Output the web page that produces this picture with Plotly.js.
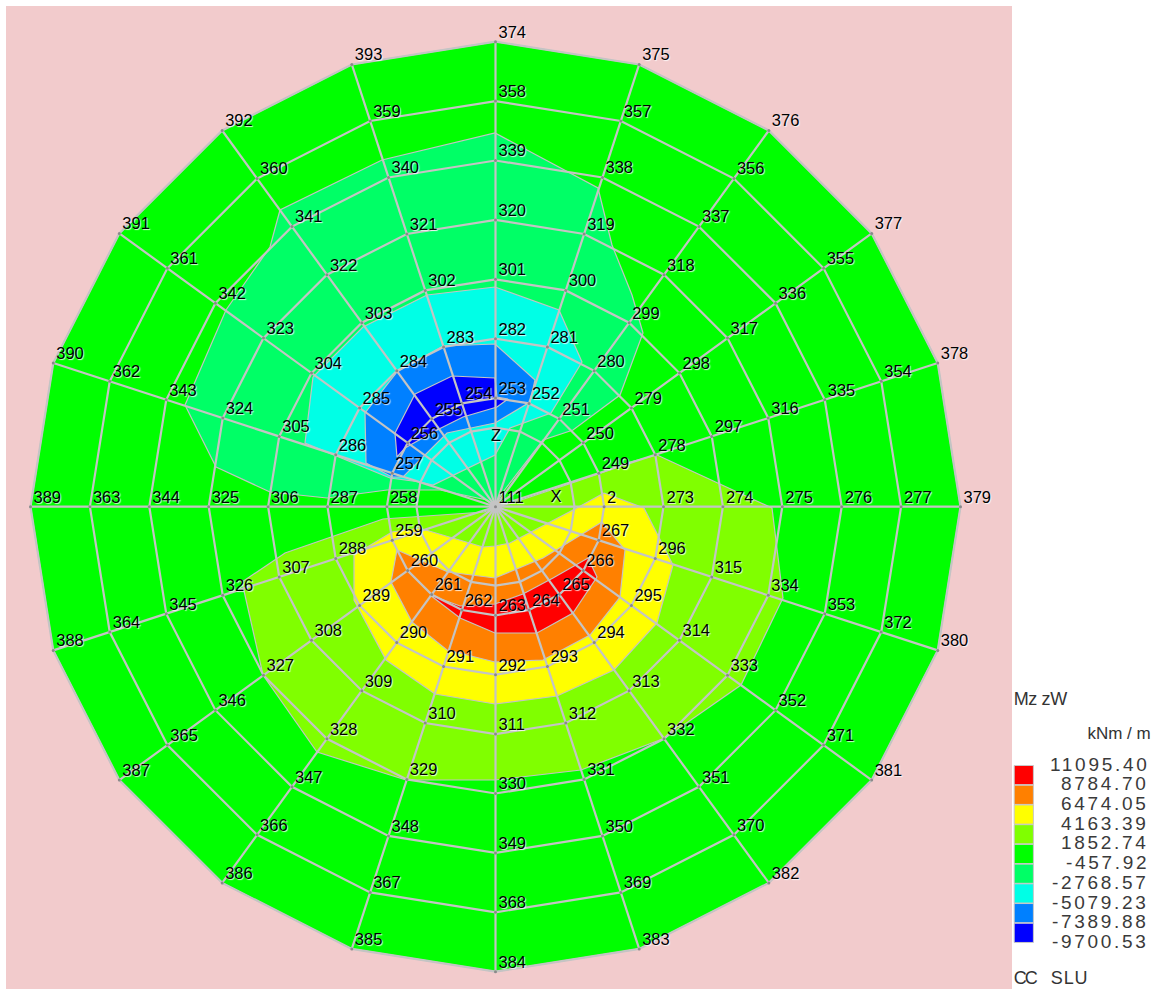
<!DOCTYPE html>
<html>
<head>
<meta charset="utf-8">
<script src="https://cdn.plot.ly/plotly-3.0.1.min.js"></script>
<style>
html,body{margin:0;padding:0;background:#fff;}
#chart{width:1161px;height:989px;}
.annotation-text{letter-spacing:2.7px;}
.annotation[data-index="10"] .annotation-text{letter-spacing:-0.4px;}
.annotation[data-index="11"] .annotation-text{letter-spacing:0;}
.annotation[data-index="12"] .annotation-text{letter-spacing:-2px;}
.annotation[data-index="13"] .annotation-text{letter-spacing:0.8px;}
</style>
</head>
<body>
<div id="chart"></div>
<script>
// Node numbers per ring, spoke by spoke, starting at +X and going counter-clockwise
var ring2 = [2,249,250,251,252,253,254,255,256,257,258,259,260,261,262,263,264,265,266,267];
var ring3 = [273,278,279,280,281,282,283,284,285,286,287,288,289,290,291,292,293,294,295,296];
var ring4 = [274,297,298,299,300,301,302,303,304,305,306,307,308,309,310,311,312,313,314,315];
var ring5 = [275,316,317,318,319,320,321,322,323,324,325,326,327,328,329,330,331,332,333,334];
var ring6 = [276,335,336,337,338,339,340,341,342,343,344,345,346,347,348,349,350,351,352,353];
var ring7 = [277,354,355,356,357,358,359,360,361,362,363,364,365,366,367,368,369,370,371,372];
var ring8 = [379,378,377,376,375,374,393,392,391,390,389,388,387,386,385,384,383,382,381,380];
var labelledRings = [ring2,ring3,ring4,ring5,ring6,ring7,ring8];
var ringRadii = [79,108.6,168,227.4,286.8,346.2,405.6,465];
var centre = [495.5,506.7];
var spokeCount = 20;

// Contour band outlines
var bandSpring = [[216,467],[185,405],[226,310],[270,247],[280,210],[382,160],[495,133],[598,188],[612,245],[632,295],[643,333],[620,395],[573,430],[543,440],[503,492],[495,506],[487,500],[440,490],[387,490],[327,498],[270,492]];
var bandCyan = [[313,377],[363,327],[427,295],[495,287],[559,310],[582,362],[551,413],[510,428],[495,455],[433,485],[420,482],[390,478],[305,443]];
var bandBlue = [[365,413],[397,372],[443,346],[495,344],[535,380],[530,402],[495,423],[447,433],[423,457],[403,477],[392,477],[366,463]];
var bandDeep = [[415,394],[452,376],[495,378],[497,397],[508,399],[497,407],[463,417],[437,430],[405,448],[397,457],[395,433]];
var bandLime = [[657,455],[772,508],[783,598],[741,685],[665,738],[581,770],[495,780],[406,780],[317,752],[263,675],[242,582],[285,553],[383,519],[484,512],[495,508],[521,500],[575,482],[601,473],[630,462]];
var bandYellow = [[604,493],[644,508],[673,565],[657,623],[614,670],[557,696],[495,704],[435,694],[386,660],[354,600],[354,555],[392,532],[419,528],[483,547],[495,546],[510,543],[575,509]];
var bandOrange = [[397,550],[448,572],[495,578],[543,558],[602,522],[625,550],[620,597],[590,635],[543,660],[495,662],[447,650],[412,622],[391,582]];
var bandRed = [[430,595],[460,606],[495,604],[523,594],[553,578],[588,558],[597,577],[573,613],[537,633],[495,633],[460,618]];

// Legend
var legendValues = ['11095.40','8784.70','6474.05','4163.39','1852.74','-457.92','-2768.57','-5079.23','-7389.88','-9700.53'];
var legendColors = ['#FF0000','#FF8000','#FFFF00','#80FF00','#00FF00','#00FF66','#00FFE6','#0080FF','#0000FF'];

var MESH = '#C4C4C4';
var rad = Math.PI/180;
function nodeXY(r,i){var a=i*18*rad;return [centre[0]+r*Math.cos(a),centre[1]-r*Math.sin(a)];}
function band(pts,color){
  var xs=pts.map(function(p){return p[0];}),ys=pts.map(function(p){return p[1];});
  xs.push(xs[0]);ys.push(ys[0]);
  return {x:xs,y:ys,mode:'lines',fill:'toself',fillcolor:color,line:{color:MESH,width:1.2},hoverinfo:'skip',showlegend:false,type:'scatter'};
}
var traces=[];
var discPts=[];for(var i=0;i<spokeCount;i++){discPts.push(nodeXY(465,i));}
traces.push(band(discPts,legendColors[4]));
traces.push(band(bandSpring,legendColors[5]));
traces.push(band(bandCyan,legendColors[6]));
traces.push(band(bandBlue,legendColors[7]));
traces.push(band(bandDeep,legendColors[8]));
traces.push(band(bandLime,legendColors[3]));
traces.push(band(bandYellow,legendColors[2]));
traces.push(band(bandOrange,legendColors[1]));
traces.push(band(bandRed,legendColors[0]));

// mesh
var mx=[],my=[];
ringRadii.forEach(function(r){
  for(var i=0;i<=spokeCount;i++){var p=nodeXY(r,i%spokeCount);mx.push(p[0]);my.push(p[1]);}
  mx.push(null);my.push(null);
});
for(var s=0;s<spokeCount;s++){
  var q=nodeXY(465,s);mx.push(centre[0],q[0],null);my.push(centre[1],q[1],null);
}
traces.push({x:mx,y:my,mode:'lines',line:{color:MESH,width:2.2},hoverinfo:'skip',showlegend:false,type:'scatter'});

// node markers + labels
var nx=[centre[0]],ny=[centre[1]],nt=['111'];
labelledRings.forEach(function(ids,k){
  var r=ringRadii[k+1];
  ids.forEach(function(id,i){var p=nodeXY(r,i);nx.push(p[0]);ny.push(p[1]);nt.push(String(id));});
});
// centre blob
traces.push({x:[centre[0]],y:[centre[1]],mode:'markers',marker:{size:13,color:MESH,line:{width:0}},hoverinfo:'skip',showlegend:false,type:'scatter'});
traces.push({x:nx,y:ny,mode:'markers',marker:{size:3,color:'#8a8a8a'},hoverinfo:'skip',showlegend:false,type:'scatter'});
var halo='1px 1px 1px rgba(255,255,255,.85)';
var labelFont={family:'"Liberation Sans", Arial, sans-serif',size:16.5,color:'#000',shadow:halo};
traces.push({x:nx.map(function(v){return v+3;}),y:ny,text:nt,mode:'text',textposition:'top right',
  textfont:labelFont,hoverinfo:'skip',showlegend:false,type:'scatter',cliponaxis:false});
// axis letters
traces.push({x:[556,496],y:[498,437],text:['X','Z'],mode:'text',textposition:'middle center',
  textfont:labelFont,hoverinfo:'skip',showlegend:false,type:'scatter'});

// shapes: pink background and legend swatches
var shapes=[{type:'rect',xref:'x',yref:'y',x0:6,x1:1012,y0:6,y1:989,fillcolor:'#F2CBCC',line:{width:0},layer:'below'}];
legendColors.forEach(function(c,i){
  var y0=765.5+i*19.72;
  shapes.push({type:'rect',xref:'x',yref:'y',x0:1014.2,x1:1033.4,y0:y0,y1:y0+19.2,fillcolor:c,line:{color:'#C8C8C8',width:1},layer:'above'});
});

var textFont={family:'"Liberation Sans", Arial, sans-serif',size:19,color:'#3a3a3a'};
var annos=legendValues.map(function(v,i){
  return {x:1151,y:764+i*19.72,xref:'x',yref:'y',text:v,showarrow:false,xanchor:'right',yanchor:'middle',font:textFont};
});
var smallFont={family:'"Liberation Sans", Arial, sans-serif',size:18,color:'#333'};
annos.push({x:1013,y:699,xref:'x',yref:'y',xshift:-9,text:'Mz zW',showarrow:false,xanchor:'left',yanchor:'middle',font:smallFont});
annos.push({x:1151,y:733,xref:'x',yref:'y',xshift:11,text:'kNm / m',showarrow:false,xanchor:'right',yanchor:'middle',font:{family:smallFont.family,size:17,color:'#333'}});
annos.push({x:1014,y:978,xref:'x',yref:'y',xshift:-7,text:'CC',showarrow:false,xanchor:'left',yanchor:'middle',font:smallFont});
annos.push({x:1051,y:978,xref:'x',yref:'y',xshift:-5,text:'SLU',showarrow:false,xanchor:'left',yanchor:'middle',font:smallFont});

var layout={
  width:1161,height:989,margin:{l:0,r:0,t:0,b:0,pad:0},
  paper_bgcolor:'#fff',plot_bgcolor:'rgba(0,0,0,0)',showlegend:false,
  xaxis:{range:[0,1161],visible:false,fixedrange:true},
  yaxis:{range:[989,0],visible:false,fixedrange:true},
  shapes:shapes,annotations:annos
};
Plotly.newPlot('chart',traces,layout,{displayModeBar:false,staticPlot:true});
</script>
</body>
</html>
